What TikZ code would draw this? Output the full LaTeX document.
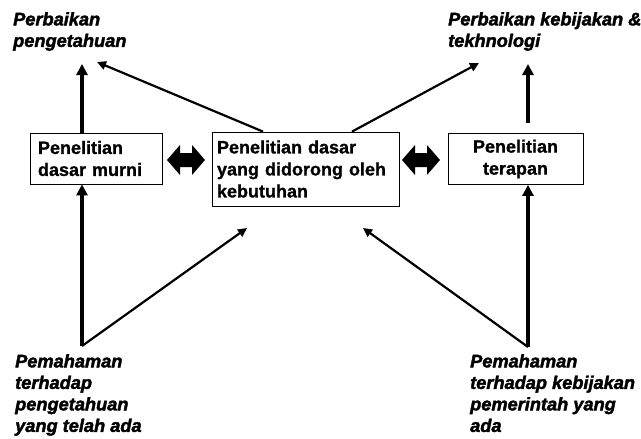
\documentclass[tikz,border=0pt]{standalone}
\usepackage{fontspec}
\setmainfont{Liberation Sans}
\newfontfamily\kotakfont{Liberation Sans Bold}[FakeBold=1]
\newfontfamily\labelfont{Liberation Sans Bold Italic}[FakeBold=2]
\usetikzlibrary{arrows.meta}

\begin{document}
\begin{tikzpicture}[x=1pt, y=-1pt,
  kotak/.style={draw, line width=0.8pt, inner sep=0pt, inner xsep=8pt, minimum height=51pt,
    font=\fontsize{18}{22}\selectfont\kotakfont},
  label/.style={inner sep=0pt, anchor=north west, align=left,
    font=\fontsize{18.2}{21.5}\selectfont\labelfont},
  tebal/.style={-{Triangle[length=11pt,width=11pt]}, line width=4pt},
  tipis/.style={-{Triangle[length=9pt,width=8.5pt]}, line width=2.2pt}]

\fill[white] (0,0) rectangle (641,439);
\useasboundingbox (0,0) rectangle (641,439);

%kotak penelitian
\node[kotak, text width=116pt, align=left] (murni) at (96,158.5) {Penelitian\\dasar murni};
\node[kotak, inner xsep=5pt, text width=177pt, align=left, minimum height=74pt] (dorong) at (305.5,169) {Penelitian dasar\\yang didorong oleh\\kebutuhan};
\node[kotak, text width=119pt, align=center] (terapan) at (515.5,159) {Penelitian\\terapan};

%label atas dan bawah
\node[label] (tahu) at (13,12) {Perbaikan\\pengetahuan};
\node[label] (bijak) at (448,12) {Perbaikan kebijakan \&\\tekhnologi};
\node[label] (pahamtahu) at (15,354) {Pemahaman\\terhadap\\pengetahuan\\yang telah ada};
\node[label] (pahambijak) at (470,354) {Pemahaman\\terhadap kebijakan\\pemerintah yang\\ada};

%ujung panah
\coordinate (kiribawah) at (82,346);
\coordinate (kananbawah) at (528,347);
\coordinate (kiriatas) at (82,64);
\coordinate (kiriserong) at (97,62);
\coordinate (kananatas) at (528,64);
\coordinate (kananserong) at (479,63);
\coordinate (tengahkiri) at (247,228);
\coordinate (tengahkanan) at (363,228);

%panah
\draw[tebal] (murni.north -| kiriatas) -- (kiriatas);
\draw[tipis] (dorong.north -| 263,0) -- (kiriserong);
\draw[tipis] (dorong.north -| 352,0) -- (kananserong);
\draw[tebal] (528,123) -- (kananatas);

\draw[tebal] (kiribawah) -- (murni.south -| kiribawah);
\draw[tipis] (kiribawah) -- (tengahkiri);
\draw[tebal] (kananbawah) -- (terapan.south -| kananbawah);
\draw[tipis] (kananbawah) -- (tengahkanan);

%panah dua arah
\foreach \cx in {186,421}
  \fill[shift={(\cx,160)}] (-19,0) -- (-6,-15) -- (-6,-7) -- (6,-7) -- (6,-15) -- (19,0)
    -- (6,15) -- (6,7) -- (-6,7) -- (-6,15) -- cycle;

\end{tikzpicture}
\end{document}
